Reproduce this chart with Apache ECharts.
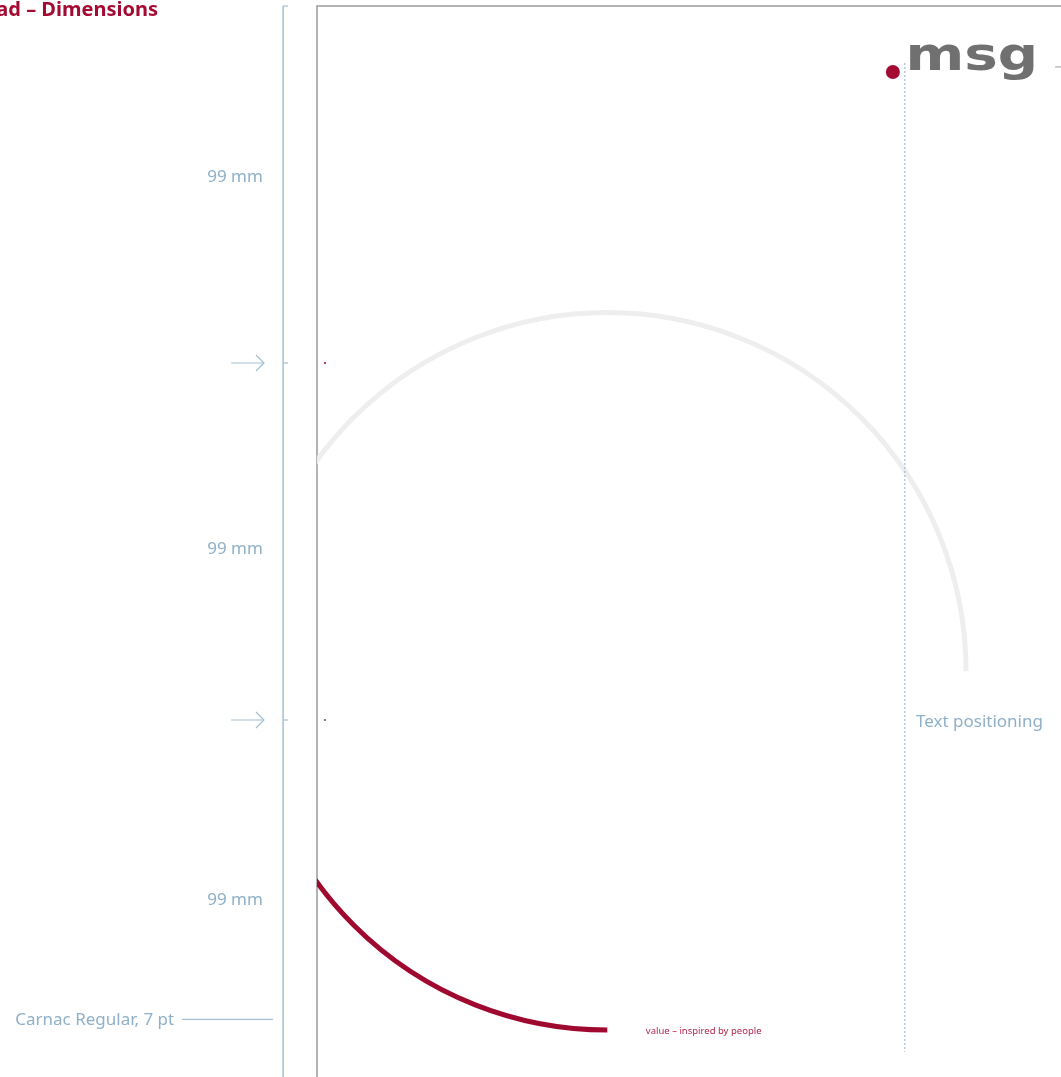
<!DOCTYPE html>
<html>
<head>
<meta charset="utf-8">
<script src="https://cdn.jsdelivr.net/npm/echarts@6/dist/echarts.min.js"></script>
<style>
html,body{margin:0;padding:0;background:#fff;overflow:hidden;}
#main{width:1061px;height:1077px;}
</style>
</head>
<body>
<div id="main"></div>
<script>
// ---- data (millimetres on the A4 page) ----
const pageSize = [210, 297];
const dimensionStops = [0, 99, 198, 297];
const dimensionLabels = ['99 mm', '99 mm', '99 mm'];
const dimensionLabelY = [47.6, 150.5, 248];
const foldMarkY = [99, 198];
const foldMarkColors = ['#a50a33', '#555555'];
const arcCenter = [80.5, 184.5];
const arcRadius = 99.5;
const arcStartDeg = [180, 90];
const arcEndDeg = [360, 180];
const arcColors = ['#eeeeee', '#a0092f'];
const textLineX = 163;
const textLineY = [15.8, 290];
const titleText = 'Letterhead – Dimensions';
const fontNote = 'Carnac Regular, 7 pt';
const positionNote = 'Text positioning';
const tagline = 'value – inspired by people';
const logoText = 'msg';

const PX = 3.606; // px per mm
const BLUE_T = '#8fb0c8';
const BLUE_L = '#a2bfd4';
const FONT = '"Noto Sans", sans-serif';

const chart = echarts.init(document.getElementById('main'), null, {renderer: 'canvas'});

function lineEl(p1, p2, color, w, dash) {
  return {type: 'line', shape: {x1: p1[0], y1: p1[1], x2: p2[0], y2: p2[1]},
    style: {stroke: color, lineWidth: w, lineDash: dash || null}, silent: true};
}
function textEl(p, text, font, color, align, vAlign, extra) {
  return Object.assign({type: 'text', x: p[0], y: p[1],
    style: {text: text, font: font, fill: color, align: align, verticalAlign: vAlign}}, extra || {});
}

const option = {
  animation: false,
  grid: {left: 317, top: 6, width: pageSize[0] * PX, height: pageSize[1] * PX,
    containLabel: false, outerBoundsMode: 'none'},
  xAxis: {type: 'value', min: 0, max: pageSize[0], show: false},
  yAxis: {type: 'value', min: 0, max: pageSize[1], inverse: true, show: false},
  series: [
    // page border (left and top edges)
    {
      type: 'custom', clip: false, silent: true,
      data: [[0, 0, pageSize[0], pageSize[1]]],
      renderItem: function (params, api) {
        const a = api.coord([api.value(0), api.value(1)]);
        const b = api.coord([api.value(2), api.value(3)]);
        return {type: 'polyline', shape: {points: [[a[0], b[1] + 2], a, [b[0], a[1]]]},
          style: {fill: null, stroke: '#9a9a9a', lineWidth: 1.5}};
      }
    },
    // arcs (clipped by the page)
    {
      type: 'custom', clip: true, silent: true,
      data: arcStartDeg.map(function (s, i) { return [arcCenter[0], arcCenter[1], arcRadius, s, arcEndDeg[i], i]; }),
      renderItem: function (params, api) {
        const c = api.coord([api.value(0), api.value(1)]);
        const r = api.size([api.value(2), 0])[0];
        const i = api.value(5);
        return {type: 'arc',
          shape: {cx: c[0], cy: c[1], r: r, startAngle: api.value(3) * Math.PI / 180,
            endAngle: api.value(4) * Math.PI / 180, clockwise: true},
          style: {stroke: arcColors[i], lineWidth: 5, fill: null, lineCap: 'butt'}};
      }
    },
    // dotted text-position line
    {
      type: 'line', clip: false, silent: true, symbol: 'none',
      data: textLineY.map(function (y) { return [textLineX, y]; }),
      lineStyle: {color: '#a9bccc', width: 1.2, type: [2, 2]}
    },
    // dimension line with ticks, arrows and labels
    {
      type: 'custom', clip: false, silent: true,
      data: [[-9.4]],
      renderItem: function (params, api) {
        const x = api.value(0);
        const children = [];
        const top = api.coord([x, dimensionStops[0]]);
        const bot = api.coord([x, dimensionStops[dimensionStops.length - 1] + 2]);
        children.push(lineEl(top, bot, BLUE_L, 1.5));
        dimensionStops.slice(0, 3).forEach(function (y) {
          const p = api.coord([x, y]);
          children.push(lineEl(p, [p[0] + 5, p[1]], BLUE_L, 1.2));
        });
        foldMarkY.forEach(function (y) {
          const a = api.coord([-23.8, y]);
          const b = api.coord([-14.7, y]);
          children.push(lineEl(a, b, BLUE_L, 1.2));
          children.push({type: 'polyline', shape: {points: [[b[0] - 8, b[1] - 8], b, [b[0] - 8, b[1] + 8]]},
            style: {stroke: BLUE_L, lineWidth: 1.2, fill: null}});
        });
        dimensionLabels.forEach(function (t, i) {
          children.push(textEl(api.coord([-15, dimensionLabelY[i]]), t, '17px ' + FONT, BLUE_T, 'right', 'middle'));
        });
        // font note with leader line
        children.push(textEl(api.coord([-39.6, 281.3]), fontNote, '17px ' + FONT, BLUE_T, 'right', 'middle'));
        children.push(lineEl(api.coord([-37.4, 281]), api.coord([-12.2, 281]), BLUE_L, 1.2));
        return {type: 'group', children: children};
      }
    },
    // fold marks
    {
      type: 'custom', clip: false, silent: true,
      data: foldMarkY.map(function (y, i) { return [2.2, y, i]; }),
      renderItem: function (params, api) {
        const p = api.coord([api.value(0), api.value(1)]);
        return {type: 'circle', shape: {cx: p[0], cy: p[1], r: 1.1},
          style: {fill: foldMarkColors[api.value(2)]}};
      }
    },
    // texts and logo
    {
      type: 'custom', clip: false, silent: true,
      data: [[0]],
      renderItem: function (params, api) {
        const children = [];
        children.push(textEl(api.coord([-44.1, 1.3]), titleText, 'bold 20px ' + FONT, '#a50a33', 'right', 'middle'));
        children.push(textEl(api.coord([166.1, 198.6]), positionNote, '17px ' + FONT, BLUE_T, 'left', 'middle'));
        children.push(textEl(api.coord([91.2, 284.2]), tagline, '9.5px ' + FONT, '#b0264d', 'left', 'middle'));
        // logo dot
        const d = api.coord([159.7, 18.3]);
        children.push({type: 'circle', shape: {cx: d[0], cy: d[1], r: 7}, style: {fill: '#a50a33'}});
        // logo word
        const l = api.coord([163.2, 14.3]);
        children.push(textEl(l, logoText, 'bold 47px "DejaVu Sans"', '#707070', 'left', 'middle',
          {scaleX: 1.2}));
        // short margin line next to logo
        children.push(lineEl(api.coord([204.7, 16.9]), api.coord([210, 16.9]), '#9a9a9a', 1));
        return {type: 'group', children: children};
      }
    }
  ]
};
chart.setOption(option);
</script>
</body>
</html>
